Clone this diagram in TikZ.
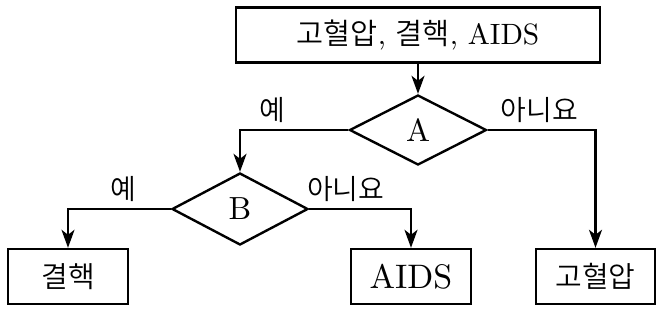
\documentclass[tikz,border=0pt]{standalone}
\usepackage{fontspec}
\setmainfont{lmroman10-regular.otf}
\newfontfamily\kr{Noto Sans CJK KR}[UprightFont=* DemiLight]
\usetikzlibrary{arrows.meta,shapes}

\begin{document}
\begin{tikzpicture}
            [
            x=0.5pt,y=-0.5pt,
            box/.style={rectangle,draw,line width=1.2pt,inner sep=0pt,minimum height=27.5pt},
            test/.style={diamond,draw,line width=1.2pt,inner sep=0pt,font=\fontsize{16}{18}\selectfont},
            edge/.style={line width=1.2pt,-{Stealth[length=9pt,width=6.5pt,inset=2.5pt]}},
            answer/.style={above,inner sep=3pt,font=\kr\fontsize{14}{16}\selectfont}
            ]
        \useasboundingbox (0,0) rectangle (664,312);
        \node[box,minimum width=182pt,font=\fontsize{14.7}{17}\selectfont] (all) at (418,35) {{\kr 고혈압}, {\kr 결핵}, AIDS};
        \node[test,minimum width=68.5pt,minimum height=35pt] (A) at (418,130) {A};
        \node[test,minimum width=68pt,minimum height=36pt] (B) at (240,209) {B};
        \node[box,minimum width=60pt,font=\kr\fontsize{14.5}{16}\selectfont] (tb) at (68,276.5) {결핵};
        \node[box,minimum width=60pt,font=\fontsize{17}{19}\selectfont] (aids) at (411,276.5) {AIDS};
        \node[box,minimum width=59.5pt,font=\kr\fontsize{14.5}{16}\selectfont] (hbp) at (595.5,276.5) {고혈압};
        \draw[edge] (all) -- (A);
        \draw[edge] (A.west) -| node[answer,pos=0.35] {예} (B.north);
        \draw[edge] (A.east) -| node[answer,pos=0.24] {아니요} (hbp.north);
        \draw[edge] (B.west) -| node[answer,pos=0.23] {예} (tb.north);
        \draw[edge] (B.east) -| node[answer,pos=0.18] {아니요} (aids.north);
        \end{tikzpicture}
\end{document}
